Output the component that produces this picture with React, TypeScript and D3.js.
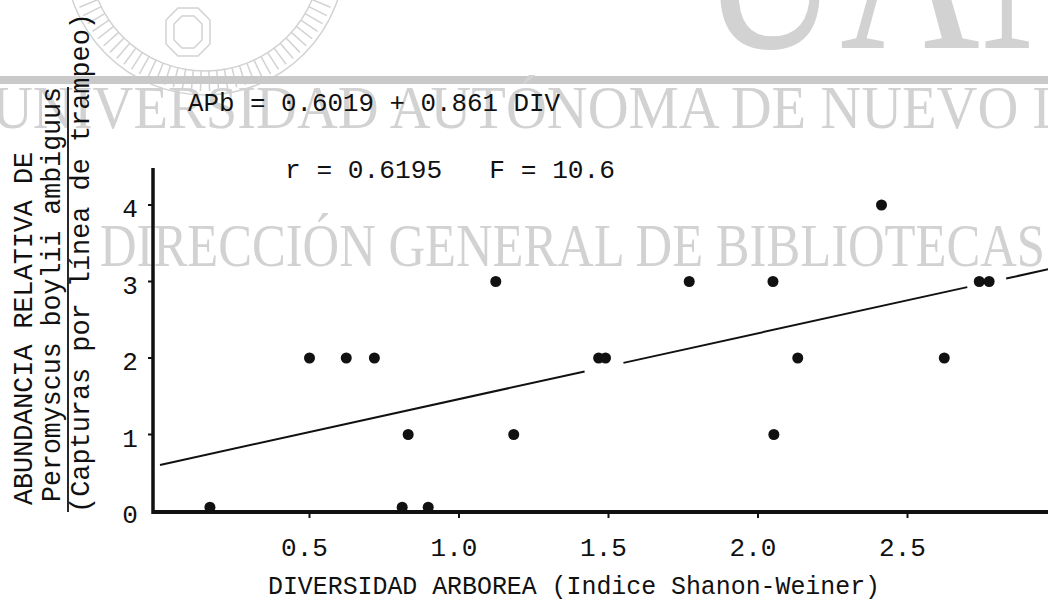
import React from "react";
import * as d3 from "d3";

const W = 1048;
const H = 605;

// Data
const divValues = [0.167, 0.5, 0.623, 0.717, 0.81, 0.83, 0.897, 1.123, 1.183, 1.467, 1.49, 1.77, 2.05, 2.053, 2.133, 2.413, 2.623, 2.74, 2.773];
const apbValues = [0.05, 2, 2, 2, 0.05, 1, 0.05, 3, 1, 2, 2, 3, 3, 1, 2, 4, 2, 3, 3];

const xTicks = [0.5, 1.0, 1.5, 2.0, 2.5];
const xTickLabels = ["0.5", "1.0", "1.5", "2.0", "2.5"];
const yTicks = [0, 1, 2, 3, 4];
const yTickLabels = ["0", "1", "2", "3", "4"];

// regression: APb = 0.6019 + 0.861 DIV, drawn in pieces (gaps where it passes dots)
const regIntercept = 0.6019;
const regSlope = 0.861;
const regSegments: [number, number][] = [[0, 1.42], [1.55, 2.7], [2.83, 2.98]];

const eqText = "APb = 0.6019 + 0.861 DIV";
const statText = "r = 0.6195   F = 10.6";
const xTitle = "DIVERSIDAD ARBOREA (Indice Shanon-Weiner)";
const yTitle1 = "ABUNDANCIA RELATIVA DE";
const yTitle2 = "Peromyscus boylii ambiguus";
const yTitle3 = "(Capturas por línea de trampeo)";

const wm1 = "UNIVERSIDAD AUTÓNOMA DE NUEVO L";
const wm2 = "DIRECCIÓN GENERAL DE BIBLIOTECAS";

const MONO = "'Liberation Mono', 'DejaVu Sans Mono', monospace";
const SERIF = "'Liberation Serif', 'DejaVu Serif', serif";
const INK = "#111";
const WM = "#d2d2d2";
const PRE = { whiteSpace: "pre" as const };

export default function App() {
  const x = d3.scaleLinear().domain([0, 3]).range([160, 1057]);
  const y = d3.scaleLinear().domain([0, 4]).range([511, 205]);
  const axisX = 153;
  const axisY = 512;
  const line = d3.line<number>().x((d) => x(d)).y((d) => y(regIntercept + regSlope * d));

  // seal radial lines
  const sealCx = 205, sealCy = -45, sealR = 140;
  const rays = d3.range(0, 44).map((i) => Math.PI * (0.04 + 0.92 * (i / 43)));

  return (
    <svg width={W} height={H} style={{ position: "absolute", left: 0, top: 0, background: "#fff" }}>
      {/* watermark */}
      <g fill="none" stroke={WM} strokeWidth={1.5}>
        <circle cx={sealCx} cy={sealCy} r={sealR} />
        <circle cx={sealCx} cy={sealCy} r={sealR - 24} />
        {rays.map((a, i) => (
          <line key={i}
            x1={sealCx + Math.cos(a) * (sealR - 24)} y1={sealCy + Math.sin(a) * (sealR - 24)}
            x2={sealCx + Math.cos(a) * (sealR - 4)} y2={sealCy + Math.sin(a) * (sealR - 4)} />
        ))}
        <polygon points="178,8 198,8 210,20 210,44 198,56 178,56 166,44 166,20" />
        <polygon points="182,16 194,16 202,24 202,40 194,48 182,48 174,40 174,24" />
      </g>
      <text x={700} y={48} fontFamily={SERIF} fontSize={250} fill={WM} textLength={420} lengthAdjust="spacingAndGlyphs">UAN</text>
      <rect x={0} y={76} width={W} height={8} fill="#c9c9c9" />
      <text x={-8} y={128} fontFamily={SERIF} fontSize={62} fill={WM} textLength={1075} lengthAdjust="spacingAndGlyphs">{wm1}</text>
      <text x={100} y={266} fontFamily={SERIF} fontSize={62} fill={WM} textLength={945} lengthAdjust="spacingAndGlyphs">{wm2}</text>

      {/* axes */}
      <line x1={axisX} x2={axisX} y1={168} y2={axisY + 2} stroke={INK} strokeWidth={3.5} />
      <line x1={axisX - 1} x2={W} y1={axisY} y2={axisY} stroke={INK} strokeWidth={4} />
      {yTicks.map((t, i) => (
        <g key={"yt" + i}>
          {t > 0 && <line x1={axisX - 5} x2={axisX} y1={y(t)} y2={y(t)} stroke={INK} strokeWidth={2} />}
          <text x={130} y={y(t) + 12} textAnchor="middle" fontFamily={MONO} fontSize={26} fill={INK}>{yTickLabels[i]}</text>
        </g>
      ))}
      {xTicks.map((t, i) => (
        <g key={"xt" + i}>
          <line x1={x(t)} x2={x(t)} y1={axisY} y2={axisY + 6} stroke={INK} strokeWidth={2} />
          <text x={x(t) - 5} y={556} textAnchor="middle" fontFamily={MONO} fontSize={26} fill={INK}>{xTickLabels[i]}</text>
        </g>
      ))}

      {/* regression line */}
      {regSegments.map((s, i) => (
        <path key={"rs" + i} d={line([s[0], s[1]]) || ""} stroke={INK} strokeWidth={2} fill="none" />
      ))}

      {/* points */}
      {divValues.map((d, i) => (
        <circle key={"p" + i} cx={x(d)} cy={y(apbValues[i])} r={5.5} fill={INK} />
      ))}

      {/* annotations */}
      <text x={188} y={111} fontFamily={MONO} fontSize={26} fill={INK} style={PRE} textLength={372} lengthAdjust="spacingAndGlyphs">{eqText}</text>
      <text x={285} y={178} fontFamily={MONO} fontSize={26} fill={INK} style={PRE} textLength={330} lengthAdjust="spacingAndGlyphs">{statText}</text>

      {/* axis titles */}
      <text x={268} y={594} fontFamily={MONO} fontSize={25} fill={INK} textLength={612} lengthAdjust="spacingAndGlyphs">{xTitle}</text>
      <text transform="translate(32,505) rotate(-90)" fontFamily={MONO} fontSize={28} fill={INK} textLength={353} lengthAdjust="spacingAndGlyphs">{yTitle1}</text>
      <text transform="translate(60,502) rotate(-90)" fontFamily={MONO} fontSize={27} fill={INK} textLength={415} lengthAdjust="spacingAndGlyphs">{yTitle2}</text>
      <line x1={68} x2={68} y1={512} y2={87} stroke={INK} strokeWidth={1.8} />
      <text transform="translate(89,513) rotate(-90)" fontFamily={MONO} fontSize={27} fill={INK} textLength={500} lengthAdjust="spacingAndGlyphs">{yTitle3}</text>
    </svg>
  );
}
